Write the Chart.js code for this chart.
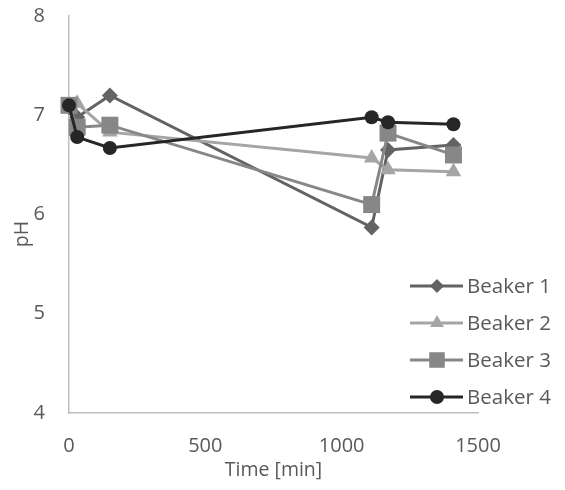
<!DOCTYPE html>
<html><head><meta charset="utf-8">
<script src="https://cdn.jsdelivr.net/npm/chart.js@4/dist/chart.umd.min.js"></script>
<style>html,body{margin:0;padding:0;background:#fff}</style></head>
<body><canvas id="c" width="565" height="490"></canvas>
<script>
const times = [0, 30, 150, 1110, 1170, 1410];
const seriesNames = ['Beaker 1', 'Beaker 2', 'Beaker 3', 'Beaker 4'];
const beaker1 = [7.08, 6.98, 7.20, 5.87, 6.65, 6.70];
const beaker2 = [7.10, 7.12, 6.83, 6.57, 6.45, 6.43];
const beaker3 = [7.10, 6.88, 6.90, 6.10, 6.82, 6.60];
const beaker4 = [7.10, 6.78, 6.67, 6.98, 6.93, 6.91];
const xTicks = [0, 500, 1000, 1500];
const yTicks = [4, 5, 6, 7, 8];

const colors = ['#636363', '#A5A5A5', '#878787', '#262626'];
const styles = ['rectRot', 'triangle', 'rect', 'circle'];
const radii = [8, 9, 12, 7];
const values = [beaker1, beaker2, beaker3, beaker4];
const FONT = "'Open Sans', sans-serif";
const TXT = '#595959';

const datasets = values.map((v, i) => ({
  label: seriesNames[i],
  data: times.map((t, j) => ({x: t, y: v[j]})),
  borderColor: colors[i],
  backgroundColor: colors[i],
  pointBackgroundColor: colors[i],
  pointBorderColor: colors[i],
  pointBorderWidth: 0,
  pointStyle: styles[i],
  pointRadius: radii[i],
  pointHoverRadius: radii[i],
  borderWidth: 3,
  tension: 0,
  clip: false,
  order: 4 - i
}));

function drawMarker(ctx, style, r, x, y) {
  ctx.beginPath();
  if (style === 'circle') {
    ctx.arc(x, y, r, 0, Math.PI * 2);
  } else if (style === 'rect') {
    const s = r * Math.SQRT1_2;
    ctx.rect(x - s, y - s, 2 * s, 2 * s);
  } else if (style === 'rectRot') {
    ctx.moveTo(x, y - r); ctx.lineTo(x + r, y); ctx.lineTo(x, y + r); ctx.lineTo(x - r, y);
  } else if (style === 'triangle') {
    for (let k = 0; k < 3; k++) {
      const a = k * 2 * Math.PI / 3;
      const px = x + Math.sin(a) * r, py = y - Math.cos(a) * r;
      if (k === 0) ctx.moveTo(px, py); else ctx.lineTo(px, py);
    }
  }
  ctx.closePath();
  ctx.fill();
}

const customText = {
  id: 'customText',
  afterDraw(chart) {
    const ctx = chart.ctx;
    const area = chart.chartArea;
    ctx.save();
    const rowY = [286, 323, 360, 397];
    chart.data.datasets.forEach((ds, i) => {
      const y = rowY[i];
      ctx.strokeStyle = colors[i];
      ctx.fillStyle = colors[i];
      ctx.lineWidth = 3;
      ctx.beginPath(); ctx.moveTo(410, y); ctx.lineTo(463, y); ctx.stroke();
      drawMarker(ctx, styles[i], i === 2 ? 11 : (i === 1 ? 8 : 7), 437, y);
      ctx.fillStyle = TXT;
      ctx.font = "20.5px " + FONT;
      ctx.textAlign = 'left';
      ctx.textBaseline = 'middle';
      ctx.fillText(ds.label, 467, y + 1);
    });
    ctx.fillStyle = TXT;
    ctx.font = "19.5px " + FONT;
    ctx.textAlign = 'center';
    ctx.textBaseline = 'middle';
    ctx.fillText('Time [min]', (area.left + area.right) / 2, 470);
    ctx.translate(22, 234);
    ctx.rotate(-Math.PI / 2);
    ctx.fillText('pH', 0, 0);
    ctx.restore();
  }
};

new Chart(document.getElementById('c'), {
  type: 'line',
  data: { datasets },
  options: {
    responsive: false,
    animation: false,
    layout: { autoPadding: false, padding: { left: 0, right: 87, top: 16, bottom: 0 } },
    plugins: { legend: { display: false }, tooltip: { enabled: false } },
    scales: {
      x: {
        type: 'linear',
        min: 0, max: 1500,
        afterBuildTicks(scale) { scale.ticks = xTicks.map(v => ({value: v})); },
        afterFit(scale) { scale.height = 77; scale.paddingLeft = 0; scale.paddingRight = 0; },
        grid: { display: false, drawTicks: false },
        border: { display: true, color: '#BFBFBF', width: 1.5 },
        ticks: { color: TXT, font: { family: FONT, size: 20 }, padding: 21, maxRotation: 0,
                 callback: v => String(v) }
      },
      y: {
        min: 4, max: 8,
        afterBuildTicks(scale) { scale.ticks = yTicks.map(v => ({value: v})); },
        afterFit(scale) { scale.width = 69; scale.paddingTop = 0; scale.paddingBottom = 0; },
        grid: { display: false, drawTicks: false },
        border: { display: true, color: '#BFBFBF', width: 1.5 },
        ticks: { color: TXT, font: { family: FONT, size: 20 }, padding: 24,
                 callback: v => String(v) }
      }
    }
  },
  plugins: [customText]
});
</script>
</body></html>
